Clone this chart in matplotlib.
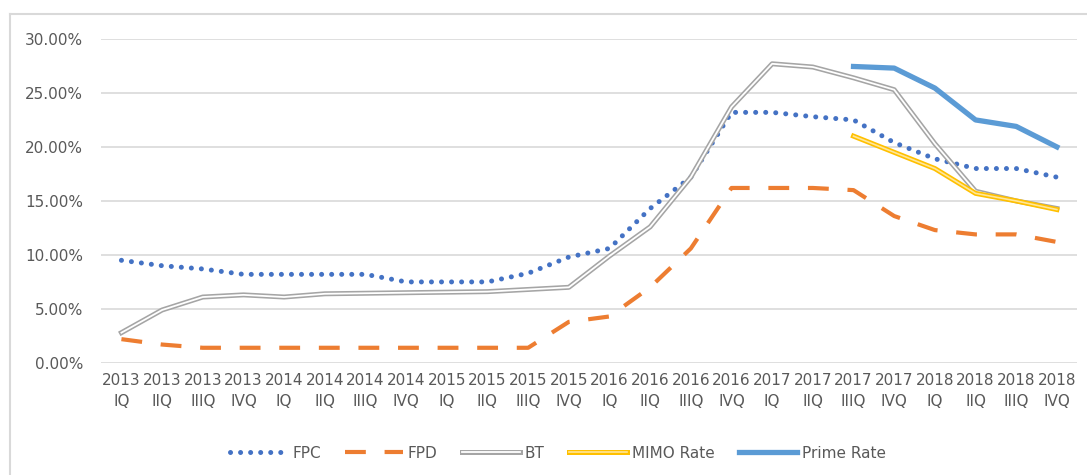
import matplotlib.pyplot as plt
from matplotlib.lines import Line2D
from matplotlib.ticker import FuncFormatter

years = ['2013'] * 4 + ['2014'] * 4 + ['2015'] * 4 + ['2016'] * 4 + ['2017'] * 4 + ['2018'] * 4
quarters = ['IQ', 'IIQ', 'IIIQ', 'IVQ'] * 6

fpc = [9.5, 9.0, 8.7, 8.2, 8.2, 8.2, 8.2, 7.5, 7.5, 7.5, 8.3, 9.8,
       10.6, 14.3, 17.2, 23.2, 23.2, 22.8, 22.5, 20.4, 18.9, 18.0, 18.0, 17.2]
fpd = [2.2, 1.7, 1.4, 1.4, 1.4, 1.4, 1.4, 1.4, 1.4, 1.4, 1.4, 3.8,
       4.3, 7.0, 10.6, 16.2, 16.2, 16.2, 16.0, 13.6, 12.3, 11.9, 11.9, 11.2]
bt = [2.8, 4.9, 6.1, 6.3, 6.1, 6.4, 6.45, 6.5, 6.55, 6.6, 6.8, 7.0,
      9.9, 12.6, 17.2, 23.7, 27.7, 27.4, 26.4, 25.3, 20.3, 15.9, 15.0, 14.3]
mimo_idx = [18, 19, 20, 21, 22, 23]
mimo = [21.0, 19.5, 18.0, 15.7, 15.0, 14.2]
prime = [27.45, 27.3, 25.45, 22.5, 21.9, 20.0]

x = list(range(len(years)))
labels = [f'{y}\n{q}' for y, q in zip(years, quarters)]

fig = plt.figure(figsize=(10.87, 4.75), dpi=100)
ax = fig.add_axes([0.093, 0.236, 0.898, 0.682])

v = lambda s: [a / 100 for a in s]

l_fpc, = ax.plot(x, v(fpc), color='#4472C4', lw=3.6, linestyle=(0, (0.01, 2.0)),
                 dash_capstyle='round', zorder=3)
l_fpd, = ax.plot(x, v(fpd), color='#ED7D31', lw=3.0, linestyle=(0, (5, 4.5)),
                 dash_capstyle='butt', zorder=3)
l_bt1, = ax.plot(x, v(bt), color='#A5A5A5', lw=3.6, zorder=3)
l_bt2, = ax.plot(x, v(bt), color='white', lw=1.3, zorder=3)
l_mi1, = ax.plot(mimo_idx, v(mimo), color='#FFC000', lw=3.6, zorder=4)
l_mi2, = ax.plot(mimo_idx, v(mimo), color='#FFE699', lw=1.2, zorder=4)
l_pr, = ax.plot(mimo_idx, v(prime), color='#5B9BD5', lw=3.8, zorder=4)

ax.set_xlim(-0.5, len(x) - 0.5)
ax.set_ylim(0, 0.30)
ax.set_yticks([0, 0.05, 0.10, 0.15, 0.20, 0.25, 0.30])
ax.yaxis.set_major_formatter(FuncFormatter(lambda val, p: f'{val * 100:.2f}%'))
ax.set_xticks(x)
ax.set_xticklabels(labels, linespacing=1.5)
ax.grid(axis='y', color='#D9D9D9', lw=1.2)
ax.set_axisbelow(True)
for s in ax.spines.values():
    s.set_visible(False)
ax.tick_params(axis='y', length=0, pad=13, labelsize=11, labelcolor='#595959')
ax.tick_params(axis='x', length=0, pad=7, labelsize=11, labelcolor='#595959')

leg = fig.legend([l_fpc, l_fpd, (l_bt1, l_bt2), (l_mi1, l_mi2), l_pr],
                 ['FPC', 'FPD', 'BT', 'MIMO Rate', 'Prime Rate'],
                 loc='center', bbox_to_anchor=(0.513, 0.046), ncol=5, frameon=False,
                 fontsize=11, handlelength=3.8, handletextpad=0.3, columnspacing=1.6)
for t in leg.get_texts():
    t.set_color('#595959')

# outer chart border (only top and left visible in the crop)
fig.add_artist(Line2D([0.0092, 1.0], [0.971, 0.971], transform=fig.transFigure,
                      color='#D9D9D9', lw=1.5))
fig.add_artist(Line2D([0.0092, 0.0092], [0.0, 0.971], transform=fig.transFigure,
                      color='#D9D9D9', lw=1.5))

fig.savefig('out.png', dpi=100)
